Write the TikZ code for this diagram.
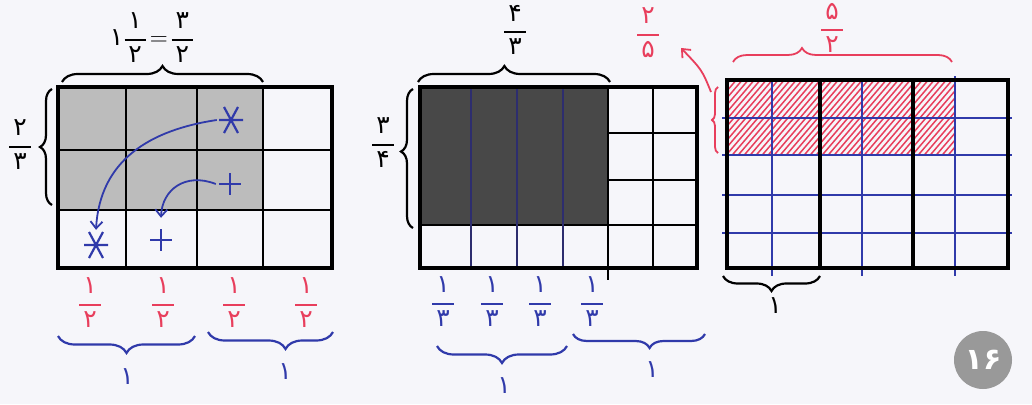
\documentclass[tikz,border=0pt]{standalone}
\usepackage{amsmath}
\usepackage{fontspec}
\newfontfamily\fa[Script=Arabic]{DejaVu Sans}
\usetikzlibrary{decorations.pathreplacing,arrows.meta}
\definecolor{penred}{RGB}{232,62,92}
\definecolor{penblue}{RGB}{48,58,170}
\definecolor{navy}{RGB}{45,45,110}
\definecolor{paper}{RGB}{246,246,250}
\definecolor{shadegray}{RGB}{188,188,188}
\definecolor{shadedark}{RGB}{72,72,72}
\newcommand\fr[2]{\ensuremath{\genfrac{}{}{2pt}{0}{\hbox to 0.85em{\hss\fa #1\hss}}{\hbox to 0.85em{\hss\fa #2\hss}}}}
\begin{document}
\begin{tikzpicture}[x=1pt,y=-1pt,
  thickline/.style={line width=3.8pt},
  thinline/.style={line width=2pt},
  blueline/.style={penblue,line width=1.8pt},
  lbl/.style={font=\fontsize{25}{28}\selectfont, inner sep=0pt},
  bracedeco/.style 2 args={decorate, decoration={brace,amplitude=#1,aspect=#2}, line width=2.2pt},
  markbox/.style={inner sep=0pt, minimum width=28pt},
  astx/.pic={\draw[penblue,line width=2.2pt] (-12,0)--(12,0) (-7,-13)--(7,13) (7,-13)--(-7,13);},
  plusx/.pic={\draw[penblue,line width=2.2pt] (-11,0)--(11,0) (0,-11)--(0,11);}
]
\useasboundingbox[fill=paper] (0,0) rectangle (1032,404);

% ---------- grid 1 ----------
\fill[shadegray] (58,87) rectangle (263,210);
\draw[thinline] (126,87)--(126,268) (197,87)--(197,268) (263,87)--(263,268)
                (58,150)--(332,150) (58,210)--(332,210);
\draw[thickline] (58,87) rectangle (332,268);

\node[markbox] (s1) at (231,120) {}; \pic at (231,120) {astx};
\node[markbox,minimum height=30pt] (s2) at (96,245) {}; \pic at (96,245) {astx};
\node[markbox] (p1) at (230,184) {}; \pic at (230,184) {plusx};
\node[markbox,minimum height=44pt] (p2) at (161,240) {}; \pic at (161,240) {plusx};
\draw[blueline,-{Straight Barb[length=7pt,width=12pt]}] (s1.west) .. controls (150,130) and (100,160) .. (s2.north);
\draw[blueline,-{Straight Barb[length=7pt,width=12pt]}] (p1.west) .. controls (185,172) and (162,190) .. (p2.north);

\draw[bracedeco={16pt}{0.5}] (62,82) -- (263,82);
\node[lbl] (t1) at (152,38) {$\hbox{\fa ۱}\fr{۱}{۲}\!=\!\fr{۳}{۲}$};
\draw[bracedeco={12pt}{0.5}] (52,205) -- (52,89);
\node[lbl] (l1) at (20,145) {\fr{۲}{۳}};

\node[lbl,text=penred] (a1) at (90,303) {\fr{۱}{۲}};
\node[lbl,text=penred] (a2) at (163,303) {\fr{۱}{۲}};
\node[lbl,text=penred] (a3) at (234,303) {\fr{۱}{۲}};
\node[lbl,text=penred] (a4) at (306,303) {\fr{۱}{۲}};
\draw[bracedeco={17pt}{0.5},penblue] (195,336) -- (58,336);
\draw[bracedeco={17pt}{0.38},penblue] (333,332) -- (208,332);
\node[lbl,text=penblue] (o1) at (127,377) {\fa ۱};
\node[lbl,text=penblue] (o2) at (285,372) {\fa ۱};

% ---------- grid 2 ----------
\fill[shadedark] (420,87) rectangle (608,225);
\draw[thinline] (608,133)--(697,133) (608,180)--(697,180) (420,225)--(697,225)
                (608,87)--(608,280) (653,87)--(653,268);
\draw[thinline,navy] (471,87)--(471,268) (517,87)--(517,268) (563,87)--(563,268);
\draw[thickline] (420,87) rectangle (697,268);

\draw[bracedeco={16pt}{0.45}] (418,82) -- (610,82);
\node[lbl] (t2) at (515,30) {\fr{۴}{۳}};
\draw[bracedeco={12pt}{0.55}] (413,228) -- (413,89);
\node[lbl] (l2) at (383,143) {\fr{۳}{۴}};

\node[lbl,text=penblue] (b1) at (443,302) {\fr{۱}{۳}};
\node[lbl,text=penblue] (b2) at (492,302) {\fr{۱}{۳}};
\node[lbl,text=penblue] (b3) at (540,302) {\fr{۱}{۳}};
\node[lbl,text=penblue] (b4) at (592,302) {\fr{۱}{۳}};
\draw[bracedeco={17pt}{0.5},penblue] (567,346) -- (437,346);
\draw[bracedeco={14pt}{0.42},penblue] (705,334) -- (573,334);
\node[lbl,text=penblue] (o3) at (504,386) {\fa ۱};
\node[lbl,text=penblue] (o4) at (652,370) {\fa ۱};

% ---------- grid 3 ----------
\begin{scope}
  \clip (727,80) rectangle (955,155);
  \foreach \i in {0,...,60}
    \draw[penred,line width=1.5pt] (650+\i*6,160) -- ++(70,-82);
\end{scope}
\draw[blueline] (722,118)--(1012,118) (722,155)--(1012,155) (722,195)--(1012,195) (722,233)--(1012,233)
                (772,80)--(772,276) (862,80)--(862,276) (955,76)--(955,276);
\draw[thickline] (820,80)--(820,268) (913,80)--(913,268);
\draw[thickline] (727,80) rectangle (1008,268);

\draw[bracedeco={14pt}{0.315},penred,line width=1.8pt] (733,62) -- (952,62);
\node[lbl,text=penred] (t3) at (832,28) {\fr{۵}{۲}};
\draw[bracedeco={6pt}{0.5},penred,line width=1.8pt] (718,153) -- (718,87);
\coordinate (rbtop) at (711,92);
\coordinate (arrtip) at (681,48);
\node[lbl,text=penred] (t4) at (648,33) {\fr{۲}{۵}};
\draw[penred,line width=1.8pt,-{Straight Barb[length=7pt,width=12pt]}] (rbtop) .. controls (702,70) .. (arrtip);

\draw[bracedeco={15pt}{0.5}] (820,276) -- (723,276);
\node[lbl] (o5) at (775,306) {\fa ۱};

% ---------- page number ----------
\node[circle,fill=black!40,minimum size=58pt,inner sep=0pt,text=white,
      font=\fontsize{30}{32}\selectfont\fa\bfseries] (pg) at (983,360) {۱۶};
\end{tikzpicture}
\end{document}
